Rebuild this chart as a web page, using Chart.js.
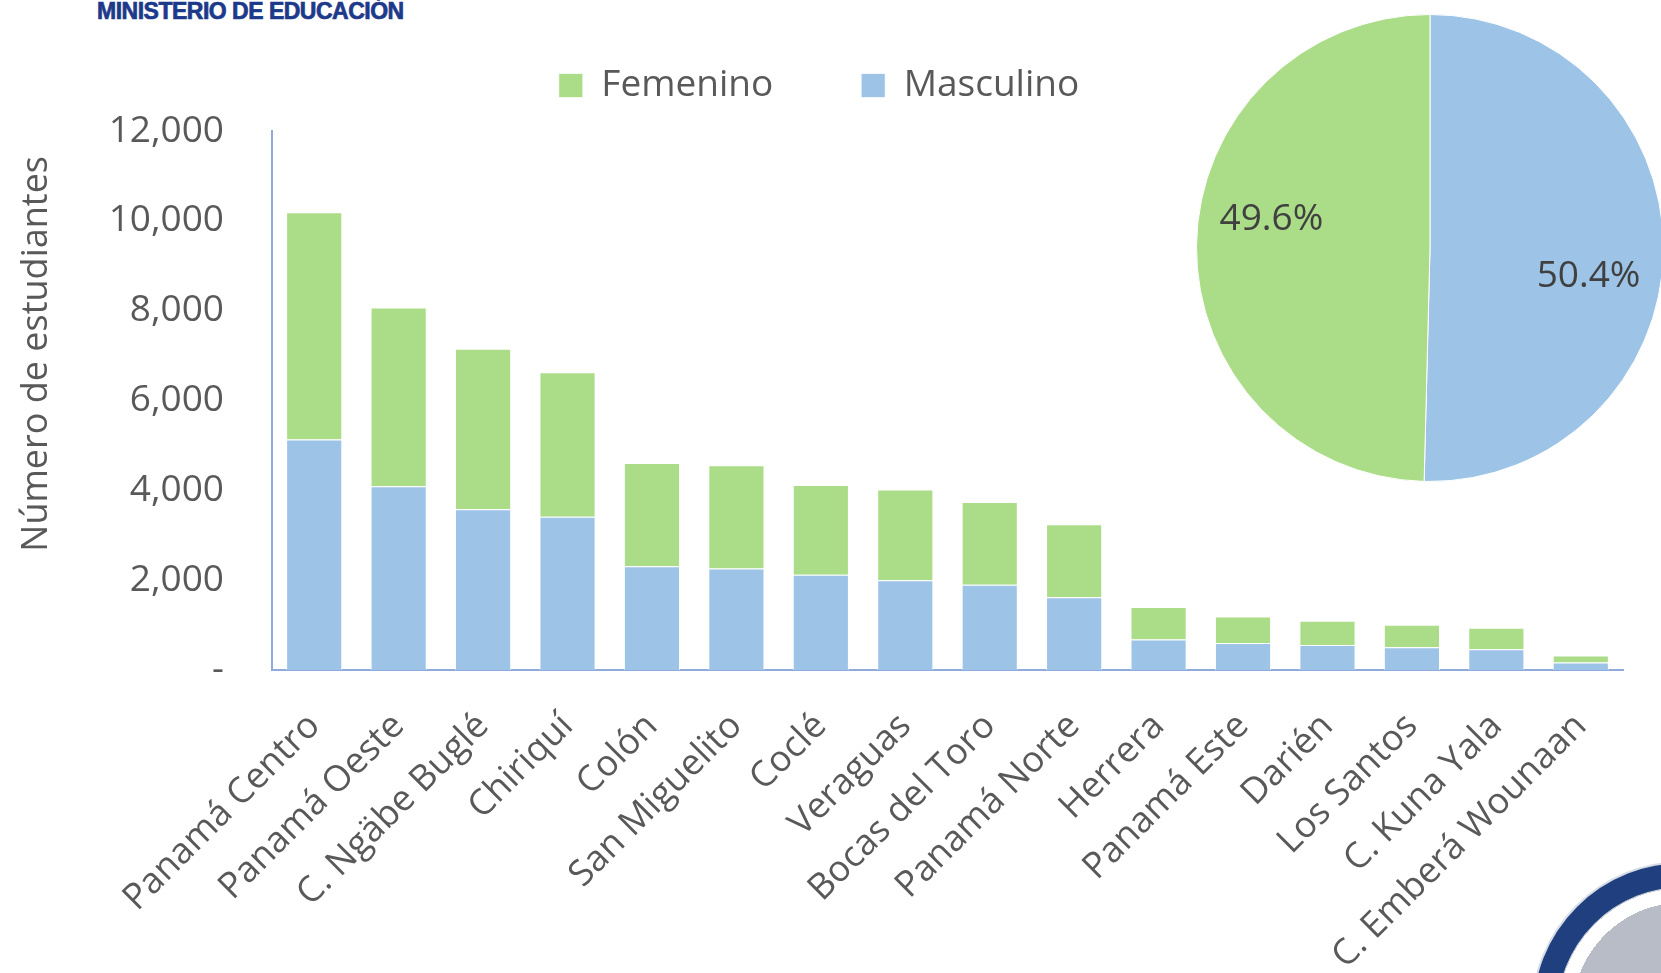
<!DOCTYPE html>
<html>
<head>
<meta charset="utf-8">
<script src="https://cdn.jsdelivr.net/npm/chart.js@4.4.0/dist/chart.umd.min.js"></script>
<style>
  html, body { margin: 0; padding: 0; background: #fff; overflow: hidden; }
  #wrap { position: relative; width: 1661px; height: 973px; overflow: hidden; }
  #barras { position: absolute; left: 0; top: 0; }
  #pastel { position: absolute; left: 1190px; top: 8px; }
  .ministerio {
    position: absolute; left: 97px; top: -2px;
    font: bold 23px "Liberation Sans", Arial, sans-serif;
    color: #1d3a8a; letter-spacing: -0.5px;
    -webkit-text-stroke: 0.7px #1d3a8a;
  }
  .sello {
    position: absolute; left: 1533px; top: 863px;
    width: 252px; height: 252px; border-radius: 50%;
    border: 24px solid #1f3f7e;
    box-shadow: 0 0 0 2px #d6dde8;
    background: radial-gradient(circle, #b8bcc6 0 62%, #ffffff 62% 70%, #c9ced8 70% 73%, #ffffff 73%);
  }
</style>
</head>
<body>
<div id="wrap">
  <div class="ministerio">MINISTERIO DE EDUCACIÓN</div>
  <canvas id="barras" width="1661" height="973"></canvas>
  <canvas id="pastel" width="480" height="480"></canvas>
  <div class="sello"></div>
</div>
<script>
const regiones = [
  "Panamá Centro", "Panamá Oeste", "C. Ngäbe Buglé", "Chiriquí", "Colón",
  "San Miguelito", "Coclé", "Veraguas", "Bocas del Toro", "Panamá Norte",
  "Herrera", "Panamá Este", "Darién", "Los Santos", "C. Kuna Yala", "C. Emberá Wounaan"
];
const masculino = [5130, 4090, 3580, 3410, 2310, 2260, 2120, 2000, 1900, 1620, 680, 600, 555, 505, 460, 165];
const femenino  = [5060, 3980, 3570, 3220, 2300, 2300, 2000, 2020, 1840, 1625, 720, 590, 540, 503, 480, 160];
const marcasY = ["-", "2,000", "4,000", "6,000", "8,000", "10,000", "12,000"];

const pieEtiquetas = ["Masculino", "Femenino"];
const pieValores = [50.4, 49.6];

const azul = "#9dc3e6";
const verde = "#abdc88";
const gris = "#595959";

Chart.defaults.font.family = '"Open Sans", sans-serif';
Chart.defaults.color = gris;

// deja espacio entre la leyenda y el área del gráfico,
// y baja un poco el título del eje Y
const ajustes = {
  id: "ajustes",
  beforeInit(chart) {
    const fit = chart.legend.fit;
    chart.legend.fit = function () {
      fit.call(this);
      this.height += 17;
    };
  },
  beforeDraw(chart) {
    const s = chart.scales.y;
    if (s._bajado) return;
    const orig = s.drawTitle;
    s.drawTitle = function () {
      this.ctx.save();
      this.ctx.translate(0, 25);
      orig.call(this);
      this.ctx.restore();
    };
    s._bajado = true;
  },
};

const ctx1 = document.getElementById("barras").getContext("2d");
const chart1 = new Chart(ctx1, {
  type: "bar",
  data: {
    labels: regiones,
    datasets: [
      {
        label: "Masculino",
        data: masculino,
        backgroundColor: azul,
        borderColor: "rgba(255,255,255,0.7)",
        borderWidth: 1,
      },
      {
        label: "Femenino",
        data: femenino,
        backgroundColor: verde,
        borderColor: "rgba(255,255,255,0.7)",
        borderWidth: 1,
      },
    ],
  },
  options: {
    responsive: false,
    animation: false,
    layout: { padding: { top: -21, right: 38, left: 15, bottom: 0 } },
    datasets: { bar: { categoryPercentage: 1, barPercentage: 0.665 } },
    plugins: {
      legend: {
        reverse: true,
        labels: {
          boxWidth: 24,
          boxHeight: 24,
          padding: 88,
          color: gris,
          font: { size: 37 },
        },
      },
      tooltip: { enabled: false },
    },
    scales: {
      x: {
        stacked: true,
        grid: { display: false },
        border: { color: "#8faadc", width: 2 },
        ticks: {
          autoSkip: false,
          minRotation: 45,
          maxRotation: 45,
          padding: 27,
          color: gris,
          font: { size: 36 },
        },
        afterFit: (scale) => { scale.height = 303; },
      },
      y: {
        stacked: true,
        min: 0,
        max: 12000,
        grid: { display: false },
        border: { color: "#8faadc", width: 2 },
        ticks: {
          stepSize: 2000,
          padding: 40,
          color: gris,
          font: { size: 37 },
          callback: (v, i) => marcasY[i],
        },
        title: {
          display: true,
          text: "Número de estudiantes",
          align: "end",
          color: gris,
          font: { size: 36 },
          padding: { top: 0, bottom: 0 },
        },
        afterFit: (scale) => { scale.width = 257; },
      },
    },
  },
  plugins: [ajustes],
});

// porcentajes dentro del pastel
const etiquetasPastel = {
  id: "etiquetasPastel",
  afterDatasetsDraw(chart, args, opts) {
    const c = chart.ctx;
    const meta = chart.getDatasetMeta(0);
    c.save();
    c.font = '37px "Open Sans", sans-serif';
    c.fillStyle = "#404040";
    c.textAlign = "center";
    c.textBaseline = "middle";
    meta.data.forEach((arc, i) => {
      const p = arc.getProps(["x", "y", "startAngle", "endAngle", "outerRadius"]);
      const a = (p.startAngle + p.endAngle) / 2 + opts.giro;
      const r = p.outerRadius * opts.radio;
      c.fillText(pieValores[i].toFixed(1) + "%", p.x + Math.cos(a) * r, p.y + Math.sin(a) * r);
    });
    c.restore();
  },
};

const ctx2 = document.getElementById("pastel").getContext("2d");
const chart2 = new Chart(ctx2, {
  type: "pie",
  data: {
    labels: pieEtiquetas,
    datasets: [
      {
        data: pieValores,
        backgroundColor: [azul, verde],
        borderColor: "#ffffff",
        borderWidth: 1,
      },
    ],
  },
  options: {
    responsive: false,
    animation: false,
    layout: { padding: 6 },
    plugins: {
      legend: { display: false },
      tooltip: { enabled: false },
      etiquetasPastel: { giro: 0.166, radio: 0.69 },
    },
  },
  plugins: [etiquetasPastel],
});
</script>
</body>
</html>
